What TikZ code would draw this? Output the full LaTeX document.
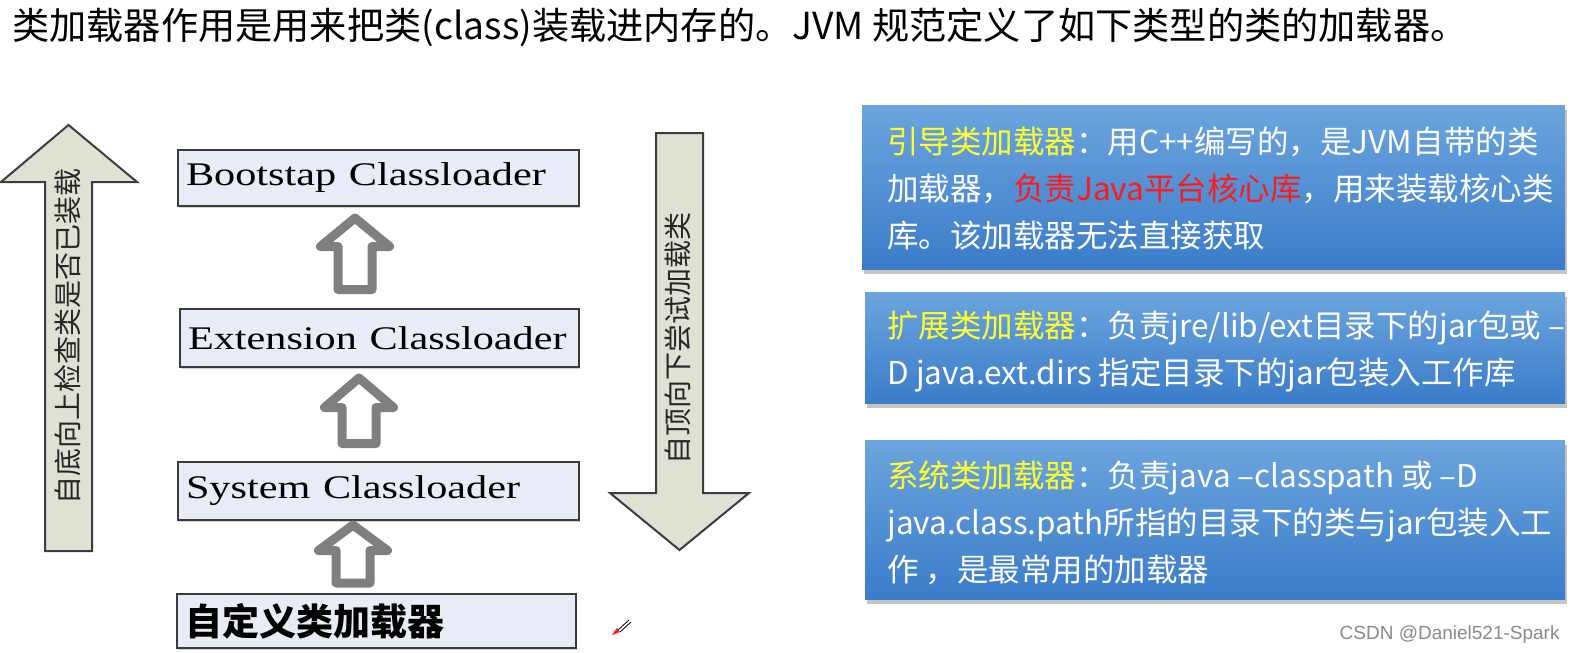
\documentclass[tikz,border=0pt]{standalone}
\usepackage{fontspec}
\setmainfont{Noto Sans CJK SC}
\newfontfamily\serifw[FakeStretch=1.28]{Liberation Serif}
\newfontfamily\wmfont{Liberation Sans}
\usetikzlibrary{shadows}
\definecolor{bigfill}{HTML}{DFE1D3}
\definecolor{bigdraw}{HTML}{3C3C3C}
\definecolor{ldfill}{HTML}{E8ECF6}
\definecolor{lddraw}{HTML}{3B3B3B}
\definecolor{hollowgray}{HTML}{7F7F7F}
\definecolor{bluetop}{HTML}{6CA5DE}
\definecolor{bluebot}{HTML}{3B7CC9}
\definecolor{hlyellow}{HTML}{FFFF30}
\definecolor{hlred}{HTML}{FF1A1A}
\definecolor{wmgray}{HTML}{8A8A8A}
\tikzset{
  bigarrow/.style={fill=bigfill, draw=bigdraw, line width=1pt, line join=miter},
  hollowarrow/.style={fill=white, draw=hollowgray, line width=4.5pt, line join=round},
  ldbox/.style={draw=lddraw, fill=ldfill, line width=1.2pt, inner xsep=4pt, align=left,
    drop shadow={shadow xshift=0.7pt, shadow yshift=-0.8pt, opacity=0.35}},
  bluebox/.style={top color=bluetop, bottom color=bluebot, draw=none, inner sep=0pt,
    drop shadow={shadow xshift=1pt, shadow yshift=-2.5pt, opacity=0.45}},
  bluetext/.style={text=white, align=left, inner sep=0pt, anchor=west,
    font=\fontsize{15.75pt}{23.5pt}\selectfont},
  vtext/.style={rotate=90, text=black!85, inner sep=0pt, font=\fontsize{14pt}{16pt}\selectfont}
}
\begin{document}
\begin{tikzpicture}[x=0.5pt,y=-0.5pt]
\useasboundingbox (0,0) rectangle (1576,653);
\fill[white] (0,0) rectangle (1576,653);

% title
\node[anchor=west, inner sep=0pt, font=\fontsize{18.6pt}{20pt}\selectfont] (title) at (12,27)
  {类加载器作用是用来把类(class)装载进内存的。JVM 规范定义了如下类型的类的加载器。};

% big arrows
\draw[bigarrow] (45,551) -- (45,182) -- (1,182) -- (68.5,125) -- (137,182) -- (92,182) -- (92,551) -- cycle;
\node[vtext] (uptext) at (68,336) {自底向上检查类是否已装载};
\draw[bigarrow] (656,133) -- (703,133) -- (703,493) -- (749,493) -- (679.5,550) -- (610,493) -- (656,493) -- cycle;
\node[vtext] (downtext) at (678,338) {自顶向下尝试加载类};

% loader boxes
\node[ldbox, minimum width=200.5pt, minimum height=28pt, text width=192.5pt] (boot) at (378.5,178)
  {\serifw\fontsize{16.5pt}{18pt}\selectfont Bootstap\hspace{3pt} Classloader};
\node[ldbox, minimum width=199.5pt, minimum height=29pt, text width=191.5pt] (ext) at (379.5,338)
  {\serifw\fontsize{16.5pt}{18pt}\selectfont Extension\hspace{3pt} Classloader};
\node[ldbox, minimum width=200.5pt, minimum height=29pt, text width=192.5pt] (sys) at (378.5,491)
  {\serifw\fontsize{16.5pt}{18pt}\selectfont System\hspace{3pt} Classloader};
\node[ldbox, minimum width=199.5pt, minimum height=27pt, text width=191.5pt] (cust) at (376.5,621)
  {\bfseries\fontsize{18.5pt}{20pt}\selectfont 自定义类加载器};

% hollow up arrows
\draw[hollowarrow] (338,289.5) -- (338,246.5) -- (320.5,246.5) -- (355,218) -- (389.5,246.5) -- (372,246.5) -- (372,289.5) -- cycle;
\draw[hollowarrow] (342,443.5) -- (342,407.5) -- (324.5,407.5) -- (359,378) -- (393.5,407.5) -- (376,407.5) -- (376,443.5) -- cycle;
\draw[hollowarrow] (336,583) -- (336,550.5) -- (318.5,550.5) -- (353,525) -- (387.5,550.5) -- (370,550.5) -- (370,583) -- cycle;

% blue boxes
\node[bluebox, minimum width=351.5pt, minimum height=82pt] (b1) at (1213.5,187) {};
\node[bluebox, minimum width=350pt, minimum height=55.5pt] (b2) at (1215,347.5) {};
\node[bluebox, minimum width=350pt, minimum height=79.5pt] (b3) at (1215,519.5) {};

\node[bluetext] (t1) at (887,188.5)
  {\textcolor{hlyellow}{引导类加载器}：用C++编写的，是JVM自带的类\\
   加载器，\textcolor{hlred}{负责Java平台核心库}，用来装载核心类\\
   库。该加载器无法直接获取};
\node[bluetext] (t2) at (887,351.5)
  {\textcolor{hlyellow}{扩展类加载器}：负责jre/lib/ext目录下的jar包或 –\\
   D java.ext.dirs 指定目录下的jar包装入工作库};
\node[bluetext] (t3) at (887,523)
  {\textcolor{hlyellow}{系统类加载器}：负责java –classpath 或 –D\\
   java.class.path所指的目录下的类与jar包装入工\\
   作 ，是最常用的加载器};

% watermark
\node[anchor=east, inner sep=0pt, text=wmgray, font=\wmfont\fontsize{9.5pt}{11pt}\selectfont] (wm) at (1560,635)
  {CSDN @Daniel521-Spark};

% pen cursor
\draw[line width=0.4pt] (618,630) -- (629,620) (620,632) -- (631,622);
\fill[hlred] (612,635) -- (617,628) -- (620,632) -- cycle;
\end{tikzpicture}
\end{document}
